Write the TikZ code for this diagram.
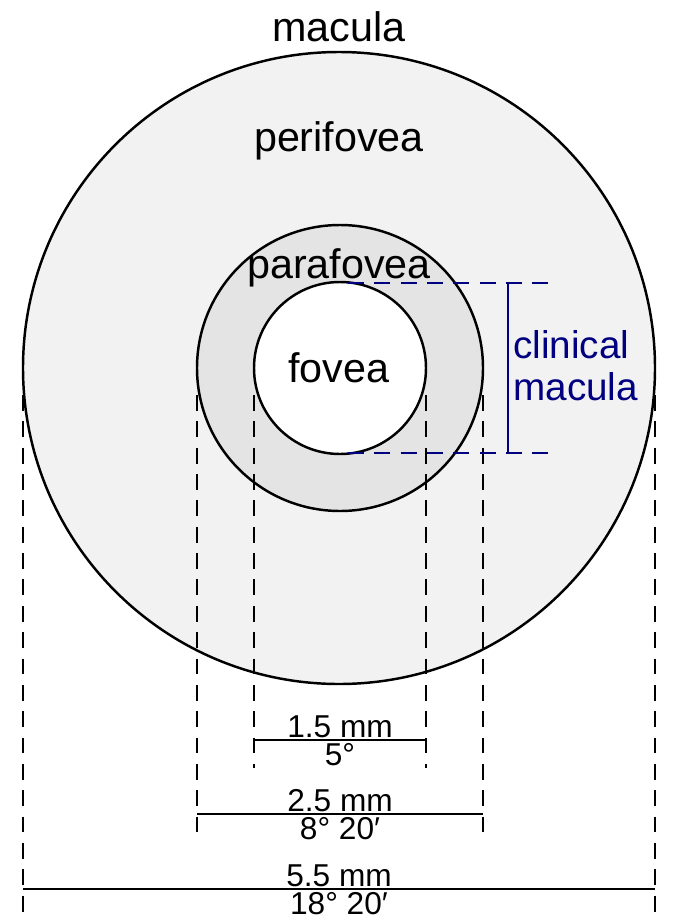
\documentclass[tikz,border=0pt]{standalone}
\usepackage{fontspec}
\setmainfont{Liberation Sans}
\usepackage{xcolor}
\usetikzlibrary{arrows.meta}
\definecolor{clin}{RGB}{0,0,128}
\begin{document}
\begin{tikzpicture}[x=0.02cm,y=-0.02cm]
  \tikzset{
    ring/.style={draw=black,line width=1.4pt},
    guide/.style={dashed,dash pattern=on 9pt off 6pt,line width=0.9pt},
    bigtxt/.style={font=\fontsize{23.5}{27}\selectfont,inner sep=0pt},
    dimtxt/.style={font=\fontsize{18}{20}\selectfont,inner sep=0pt}
  }
  \useasboundingbox (0,0) rectangle (690,920);
  \draw[ring,fill={rgb,255:red,242;green,242;blue,242}] (339,368) circle (316);
  \draw[ring,fill={rgb,255:red,228;green,228;blue,228}] (340,368) circle (143);
  \draw[ring,fill=white] (340,368) circle (86);
  \node[bigtxt] (mac) at (339,27) {macula};
  \node[bigtxt] (peri) at (339,141) {perifovea};
  \node[bigtxt] (para) at (339,268) {parafovea};
  \node[bigtxt] (fov) at (339,368) {fovea};
  % vertical guides
  \foreach \xx/\ya/\yb in {254/395/768,426/395/768,197/395/843,483/395/843,23/395/912,655/395/912}
    \draw[guide] (\xx,\ya) -- (\xx,\yb);
  % dimension lines
  \coordinate (a1) at (254,740); \coordinate (a2) at (426,740);
  \coordinate (b1) at (197,814); \coordinate (b2) at (483,814);
  \coordinate (c1) at (23,889); \coordinate (c2) at (655,889);
  \draw[line width=1.1pt] (a1) -- (a2);
  \draw[line width=1.1pt] (b1) -- (b2);
  \draw[line width=1.1pt] (c1) -- (c2);
  \node[dimtxt,anchor=south] (d1) at (340,738) {1.5 mm};
  \node[dimtxt,anchor=north] (e1) at (340,743) {5°};
  \node[dimtxt,anchor=south] (d2) at (340,812) {2.5 mm};
  \node[dimtxt,anchor=north] (e2) at (340,817) {8° 20′};
  \node[dimtxt,anchor=south] (d3) at (339,887) {5.5 mm};
  \node[dimtxt,anchor=north] (e3) at (339,892) {18° 20′};
  % clinical macula
  \coordinate (t1) at (348,283); \coordinate (t2) at (555,283);
  \coordinate (u1) at (348,453); \coordinate (u2) at (555,453);
  \draw[guide,clin] (t1) -- (t2);
  \draw[guide,clin] (u1) -- (u2);
  \draw[clin,line width=1.1pt] (508,283) -- (508,453);
  \node[bigtxt,clin,align=left,anchor=west,font=\fontsize{22}{24}\selectfont] (clm) at (513,366) {clinical\\macula};
\end{tikzpicture}
\end{document}
